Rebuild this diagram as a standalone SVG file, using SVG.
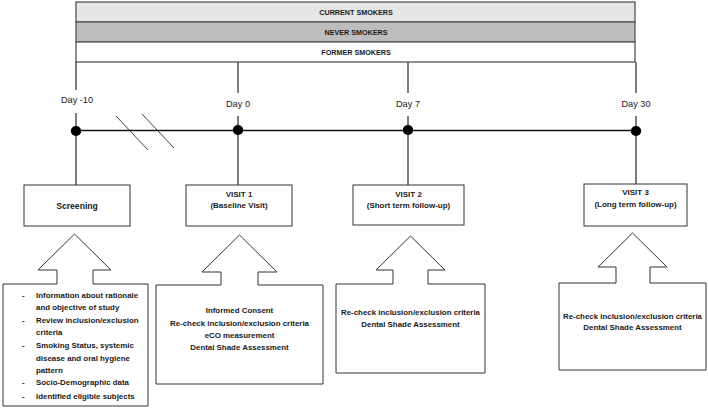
<svg xmlns="http://www.w3.org/2000/svg" width="708" height="408" viewBox="0 0 708 408">
<style>
text{font-family:"Liberation Sans",Arial,sans-serif;fill:#1a1a1a}
.bar{stroke:#555;stroke-width:1.3}
.barlbl{font-size:7.2px;font-weight:bold;text-anchor:middle}
.day{font-size:9.2px;text-anchor:middle}
.box{fill:#fff;stroke:#333;stroke-width:1}
.lbl{font-size:8px;font-weight:bold;text-anchor:middle}
.c{font-size:7.9px;font-weight:bold;text-anchor:middle}
.l{font-size:7.9px;font-weight:bold}
.conn{stroke:#3a3a3a;stroke-width:1.3;fill:none}
</style>
<g id="groups">
<rect class="bar" x="76" y="2" width="559" height="20" fill="#e6e6e6"/>
<rect class="bar" x="76" y="22" width="559" height="20" fill="#bdbdbd"/>
<rect class="bar" x="76" y="42" width="559" height="20" fill="#ffffff"/>
<text class="barlbl" x="356" y="14.5">CURRENT SMOKERS</text>
<text class="barlbl" x="356" y="34.5">NEVER SMOKERS</text>
<text class="barlbl" x="356" y="54.5">FORMER SMOKERS</text>
</g>
<g id="connectors">
<path class="conn" d="M76,62V90M76,113V185M238,62V93M238,116V185M408,62V93M408,116V185M636,62V93M636,116V184"/>
</g>
<g id="timeline">
<line x1="76" y1="130.5" x2="636" y2="130.5" stroke="#111" stroke-width="1.6"/>
<line x1="116" y1="116" x2="148" y2="150" stroke="#111" stroke-width="0.8"/>
<line x1="142" y1="114" x2="174" y2="148" stroke="#111" stroke-width="0.8"/>
<ellipse cx="76" cy="131" rx="5.2" ry="5" fill="#000"/>
<ellipse cx="238" cy="130" rx="5.2" ry="5" fill="#000"/>
<ellipse cx="408" cy="130" rx="5.2" ry="5" fill="#000"/>
<ellipse cx="636" cy="131" rx="5.2" ry="5" fill="#000"/>
<text class="day" x="77" y="103">Day -10</text>
<text class="day" x="238" y="107">Day 0</text>
<text class="day" x="408" y="107">Day 7</text>
<text class="day" x="636" y="107">Day 30</text>
</g>
<g id="screening">
<rect class="box" x="24" y="185" width="106" height="41"/>
<text class="lbl" x="77" y="209" style="font-size:8.6px">Screening</text>
<path class="box" d="M3,284H57V270H38L74.5,234L111,270H93V284H148V406H3Z"/>
<g class="l">
<text x="22" y="298">-</text><text x="36" y="298">Information about rationale</text>
<text x="36" y="310">and objective of study</text>
<text x="22" y="323">-</text><text x="36" y="323">Review inclusion/exclusion</text>
<text x="36" y="335">criteria</text>
<text x="22" y="348">-</text><text x="36" y="348">Smoking Status, systemic</text>
<text x="36" y="361">disease and oral hygiene</text>
<text x="36" y="373">pattern</text>
<text x="22" y="385">-</text><text x="36" y="385">Socio-Demographic data</text>
<text x="22" y="399">-</text><text x="36" y="399">Identified eligible subjects</text>
</g>
</g>
<g id="visit1">
<rect class="box" x="186" y="185" width="106" height="41"/>
<text class="lbl" x="239" y="197">VISIT 1</text>
<text class="lbl" x="239" y="208">(Baseline Visit)</text>
<path class="box" d="M156,285H221V272H202L239.5,235L277,272H258V285H323V384H156Z"/>
<text class="c" x="239.5" y="313">Informed Consent</text>
<text class="c" x="239.5" y="326">Re-check inclusion/exclusion criteria</text>
<text class="c" x="239.5" y="338">eCO measurement</text>
<text class="c" x="239.5" y="350">Dental Shade Assessment</text>
</g>
<g id="visit2">
<rect class="box" x="353" y="185" width="111" height="40"/>
<text class="lbl" x="408.5" y="197">VISIT 2</text>
<text class="lbl" x="408.5" y="208">(Short term follow-up)</text>
<path class="box" d="M336,284H393V270H376L410.5,236L445,270H428V284H485V373H336Z"/>
<text class="c" x="410.5" y="315">Re-check inclusion/exclusion criteria</text>
<text class="c" x="410.5" y="327">Dental Shade Assessment</text>
</g>
<g id="visit3">
<rect class="box" x="584" y="184" width="103" height="42"/>
<text class="lbl" x="635.5" y="195">VISIT 3</text>
<text class="lbl" x="635.5" y="207">(Long term follow-up)</text>
<path class="box" d="M559,283H616V267H598L632.5,233L667,267H650V283H706V370H559Z"/>
<text class="c" x="632.5" y="319">Re-check inclusion/exclusion criteria</text>
<text class="c" x="632.5" y="330">Dental Shade Assessment</text>
</g>
</svg>
